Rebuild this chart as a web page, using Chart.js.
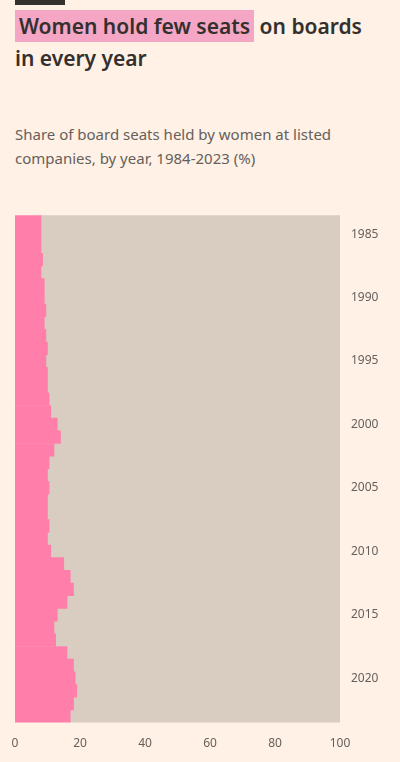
<!DOCTYPE html>
<html>
<head>
<meta charset="utf-8">
<title>Share held by women</title>
<script src="https://cdn.jsdelivr.net/npm/chart.js@4"></script>
<style>
  html, body { margin: 0; padding: 0; background: #FFF1E5; }
  body { width: 400px; height: 762px; position: relative; overflow: hidden; font-family: "Noto Sans", Inter, sans-serif; color: #33302E; }
  .rule { position: absolute; left: 15px; top: 0; width: 50px; height: 5px; background: #33302E; }
  .title { position: absolute; left: 15px; top: 10px; width: 370px; font-size: 21px; line-height: 32px; font-weight: 600; }
  .title .hl { background: #F5A6C4; padding: 2px 4px; }
  .sub { position: absolute; left: 15px; top: 122px; width: 330px; font-size: 15px; line-height: 24px; color: #66605C; }
  .wrap { position: absolute; left: 0; top: 205px; width: 400px; height: 552px; }
</style>
</head>
<body>
<div class="rule"></div>
<div class="title"><span class="hl">Women hold few seats</span> on boards in every year</div>
<div class="sub">Share of board seats held by women at listed companies, by year, 1984-2023 (%)</div>
<div class="wrap"><canvas id="chart"></canvas></div>

<script>
// ---------------------------------------------------------------------------
// DATA
// ---------------------------------------------------------------------------
const years = [
  1984, 1985, 1986, 1987, 1988, 1989, 1990, 1991, 1992, 1993,
  1994, 1995, 1996, 1997, 1998, 1999, 2000, 2001, 2002, 2003,
  2004, 2005, 2006, 2007, 2008, 2009, 2010, 2011, 2012, 2013,
  2014, 2015, 2016, 2017, 2018, 2019, 2020, 2021, 2022, 2023
];
const womenShare = [
  8, 8, 8, 8.5, 8, 9, 9, 9.5, 9, 9.5,
  10, 9.5, 10, 10, 10.5, 11, 13, 14, 12, 10.5,
  10, 10.5, 10, 10, 10.5, 10, 11, 15, 17, 18,
  16, 13, 12, 12.5, 16, 18, 18.5, 19, 18, 17
];
const menShare = womenShare.map(v => 100 - v);
const xTicks = [0, 20, 40, 60, 80, 100];

const PINK = '#FF7FAA';
const GREY = '#D9CCC1';

function renderChart() {
  const ctx = document.getElementById('chart');
  if (!ctx) return;

  new Chart(ctx, {
    type: 'bar',
    data: {
      labels: years,
      datasets: [
        { label: 'Women', data: womenShare, backgroundColor: PINK, borderWidth: 0 },
        { label: 'Men', data: menShare, backgroundColor: GREY, borderWidth: 0 }
      ]
    },
    options: {
      indexAxis: 'y',
      responsive: true,
      maintainAspectRatio: false,
      animation: false,
      datasets: { bar: { barPercentage: 1, categoryPercentage: 1 } },
      layout: { padding: { left: 15, right: 8, top: 10, bottom: 0 } },
      plugins: { legend: { display: false }, tooltip: { enabled: false } },
      scales: {
        x: {
          stacked: true,
          min: 0,
          max: 100,
          afterBuildTicks: scale => { scale.ticks = xTicks.map(v => ({ value: v })); },
          grid: { display: false },
          border: { display: false },
          ticks: { color: '#66605C', font: { family: 'Noto Sans', size: 12 }, padding: 6 }
        },
        y: {
          stacked: true,
          position: 'right',
          afterFit: scale => { scale.width = 52; },
          grid: { display: false },
          border: { display: false },
          ticks: {
            color: '#66605C',
            font: { family: 'Noto Sans', size: 12 },
            autoSkip: false,
            callback: function(value, index) {
              const y = years[index];
              return y % 5 === 0 ? String(y) : '';
            }
          }
        }
      }
    }
  });
}

if (document.readyState === 'loading') {
  document.addEventListener('DOMContentLoaded', renderChart);
} else {
  renderChart();
}
</script>
</body>
</html>
